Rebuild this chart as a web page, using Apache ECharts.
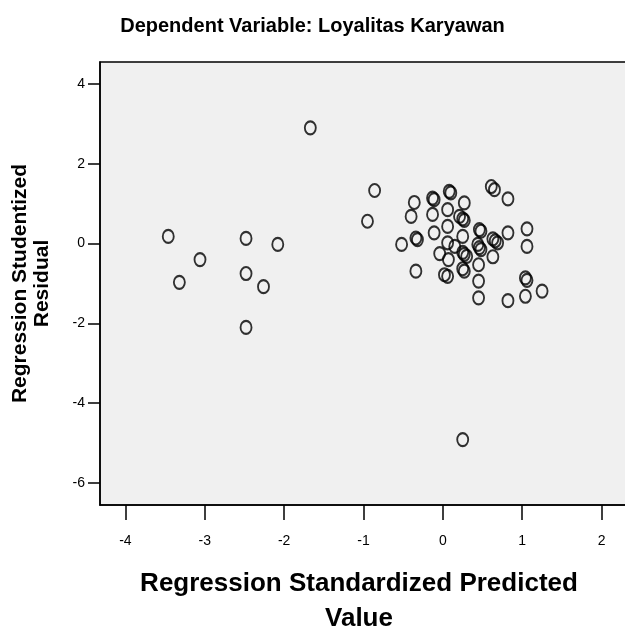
<!DOCTYPE html>
<html>
<head>
<meta charset="utf-8">
<title>Scatterplot</title>
<script src="https://cdn.jsdelivr.net/npm/echarts@6/dist/echarts.min.js"></script>
<style>
  body { margin: 0; background: #fff; }
  #chart { width: 625px; height: 635px; }
</style>
</head>
<body>
<div id="chart"></div>
<script>
// regression standardized predicted value (x) / studentized residual (y)
var predicted = [
  -3.46, -3.06, -3.32, -2.48, -2.08, -2.48, -2.26, -2.48, -1.67, -0.86, -0.95,
  -0.36, -0.40, -0.13, -0.11, 0.08, 0.10, 0.27, -0.13, 0.06, 0.21, 0.25, 0.27,
  -0.52, -0.34, -0.32, -0.11, 0.06, 0.06, 0.25, 0.15, -0.04, 0.07, 0.25, 0.27, 0.30,
  -0.34, 0.02, 0.06, 0.25, 0.27, 0.61, 0.65, 0.82, 0.46, 0.48, 0.63, 0.66, 0.69,
  0.82, 1.06, 1.06, 0.44, 0.46, 0.48, 0.63, 0.45, 0.45, 1.04, 1.06, 0.45, 0.82,
  1.04, 1.25, 0.25
];
var residual = [
  0.18, -0.40, -0.97, 0.13, -0.02, -0.75, -1.08, -2.10, 2.90, 1.33, 0.56,
  1.03, 0.68, 1.14, 1.10, 1.31, 1.27, 1.02, 0.73, 0.85, 0.68, 0.62, 0.58,
  -0.02, 0.14, 0.10, 0.27, 0.43, 0.02, 0.18, -0.07, -0.25, -0.40, -0.22, -0.27, -0.32,
  -0.69, -0.78, -0.82, -0.63, -0.69, 1.43, 1.35, 1.12, 0.35, 0.31, 0.12, 0.07, 0.02,
  0.27, 0.37, -0.07, -0.02, -0.10, -0.15, -0.33, -0.53, -0.94, -0.86, -0.92, -1.36, -1.43,
  -1.32, -1.19, -4.91
];
var xTicks = [-4, -3, -2, -1, 0, 1, 2];
var yTicks = [-6, -4, -2, 0, 2, 4];

var points = predicted.map(function (v, i) { return [v, residual[i]]; });

var font = 'Liberation Sans, Arial, sans-serif';
var chart = echarts.init(document.getElementById('chart'));
var option = {
  animation: false,
  title: {
    text: 'Dependent Variable: Loyalitas Karyawan',
    left: 'center',
    top: 11,
    textStyle: { fontFamily: font, fontSize: 20, fontWeight: 'bold', color: '#000' }
  },
  grid: {
    left: 100,
    top: 62,
    width: 527,
    height: 443,
    containLabel: false,
    outerBoundsMode: 'none',
    show: true,
    backgroundColor: '#f0f0f0',
    borderColor: '#000',
    borderWidth: 1.5
  },
  xAxis: {
    type: 'value',
    min: -4.32,
    max: 2.32,
    name: 'Regression Standardized Predicted\nValue',
    nameLocation: 'middle',
    nameGap: 61,
    nameTextStyle: {
      fontFamily: font, fontSize: 26, fontWeight: 'bold', color: '#000',
      lineHeight: 35, padding: [0, 9, 0, 0]
    },
    axisLine: { show: true, onZero: false, lineStyle: { color: '#000', width: 1.5 } },
    axisTick: { show: true, length: 15, lineStyle: { color: '#000', width: 1.5 }, customValues: xTicks },
    axisLabel: { margin: 29, fontFamily: font, fontSize: 14, color: '#000', customValues: xTicks },
    splitLine: { show: false }
  },
  yAxis: {
    type: 'value',
    min: -6.55,
    max: 4.55,
    name: 'Regression Studentized\nResidual',
    nameLocation: 'middle',
    nameGap: 47,
    nameTextStyle: { fontFamily: font, fontSize: 21, fontWeight: 'bold', color: '#000', lineHeight: 22 },
    axisLine: { show: true, onZero: false, lineStyle: { color: '#000', width: 1.5 } },
    axisTick: { show: true, length: 12, lineStyle: { color: '#000', width: 1.5 }, customValues: yTicks },
    axisLabel: { margin: 15, fontFamily: font, fontSize: 14, color: '#000', customValues: yTicks },
    splitLine: { show: false }
  },
  series: [
    {
      type: 'scatter',
      data: points,
      symbol: 'circle',
      symbolSize: [11, 13],
      itemStyle: { color: 'rgba(0,0,0,0)', borderColor: '#000', borderWidth: 2 }
    }
  ]
};
chart.setOption(option);
</script>
</body>
</html>
